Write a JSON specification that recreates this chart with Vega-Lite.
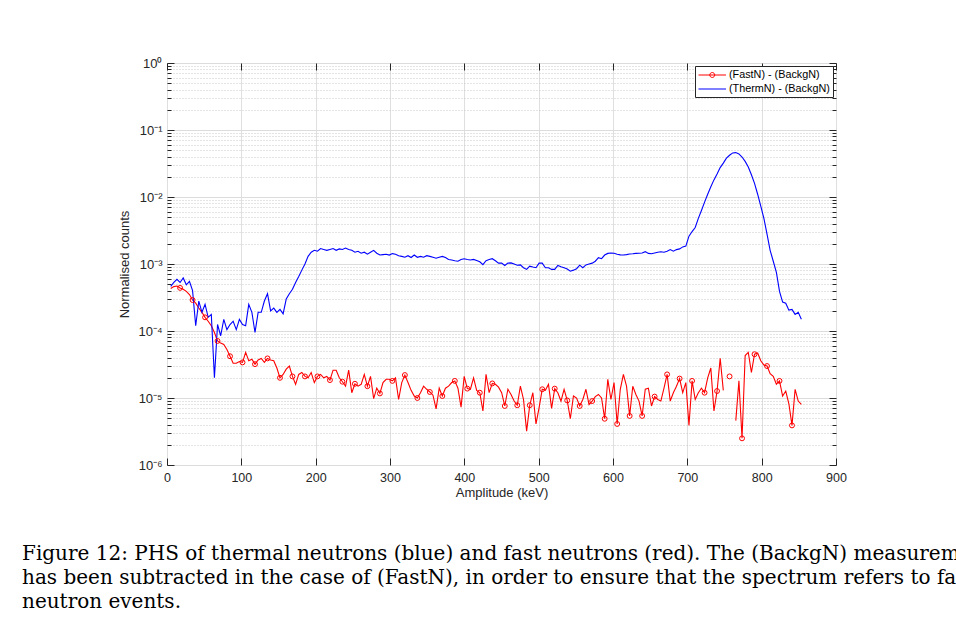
{
  "$schema": "https://vega.github.io/schema/vega-lite/v6.json",
  "width": 669,
  "height": 402,
  "autosize": {"type": "none"},
  "padding": {"left": 167, "top": 63, "right": 120, "bottom": 162},
  "background": "white",
  "config": {
    "view": {"stroke": "#262626", "strokeWidth": 1},
    "font": "Liberation Sans",
    "axis": {
      "labelFont": "Liberation Sans",
      "titleFont": "Liberation Sans",
      "labelColor": "#262626",
      "titleColor": "#262626",
      "labelFontSize": 12.5,
      "titleFontSize": 13,
      "titleFontWeight": "normal",
      "domain": false,
      "tickColor": "#262626",
      "tickWidth": 1
    }
  },
  "title": {
    "text": [
      "Figure 12:  PHS of thermal neutrons (blue) and fast neutrons (red). The (BackgN) measurement",
      "has been subtracted in the case of (FastN), in order to ensure that the spectrum refers to fast",
      "neutron events."
    ],
    "orient": "bottom",
    "anchor": "start",
    "frame": "group",
    "dx": -145,
    "offset": 44,
    "baseline": "top",
    "font": "DejaVu Serif",
    "fontSize": 20,
    "fontWeight": "normal",
    "color": "#000000",
    "lineHeight": 24
  },
  "data": {
    "values": [
      {"x":5,"f":4.3e-4,"t":4.65e-4,"m":0},
      {"x":9.2,"f":4.6e-4,"t":5.3e-4,"m":0},
      {"x":13.4,"f":4.7e-4,"t":5.9e-4,"m":0},
      {"x":17.6,"f":4.4e-4,"t":5.3e-4,"m":1},
      {"x":21.8,"f":4.2e-4,"t":6.2e-4,"m":0},
      {"x":26,"f":3.9e-4,"t":4.9e-4,"m":0},
      {"x":30.2,"f":3.5e-4,"t":5.5e-4,"m":0},
      {"x":34.4,"f":2.9e-4,"t":4.0e-4,"m":1},
      {"x":38.6,"f":2.6e-4,"t":1.2e-4,"m":0},
      {"x":42.8,"f":2.2e-4,"t":2.8e-4,"m":0},
      {"x":47,"f":1.9e-4,"t":1.9e-4,"m":0},
      {"x":51.2,"f":1.6e-4,"t":2.5e-4,"m":1},
      {"x":55.4,"f":1.4e-4,"t":1.6e-4,"m":0},
      {"x":59.6,"f":1.2e-4,"t":1.77e-4,"m":0},
      {"x":63.8,"f":9.5e-5,"t":2.0e-5,"m":0},
      {"x":68,"f":7.1e-5,"t":1.25e-4,"m":1},
      {"x":72.2,"f":6.6e-5,"t":8.5e-5,"m":0},
      {"x":76.4,"f":6.3e-5,"t":1.49e-4,"m":0},
      {"x":80.6,"f":5.3e-5,"t":1.05e-4,"m":0},
      {"x":84.8,"f":4.2e-5,"t":1.25e-4,"m":1},
      {"x":89,"f":3.3e-5,"t":1.4e-4,"m":0},
      {"x":93.2,"f":3.3e-5,"t":1.05e-4,"m":0},
      {"x":97.4,"f":3.5e-5,"t":1.49e-4,"m":0},
      {"x":101.6,"f":3.4e-5,"t":1.25e-4,"m":1},
      {"x":105.8,"f":4.8e-5,"t":1.2e-4,"m":0},
      {"x":110,"f":3.6e-5,"t":2.5e-4,"m":0},
      {"x":114.2,"f":3.8e-5,"t":1.9e-4,"m":0},
      {"x":118.4,"f":3.2e-5,"t":9.5e-5,"m":1},
      {"x":122.6,"f":3.7e-5,"t":1.9e-4,"m":0},
      {"x":126.8,"f":3.9e-5,"t":1.9e-4,"m":0},
      {"x":131,"f":3.4e-5,"t":2.8e-4,"m":0},
      {"x":135.2,"f":3.9e-5,"t":3.6e-4,"m":1},
      {"x":139.4,"f":3.7e-5,"t":2.0e-4,"m":0},
      {"x":143.6,"f":3.6e-5,"t":2.2e-4,"m":0},
      {"x":147.8,"f":2.8e-5,"t":1.9e-4,"m":0},
      {"x":152,"f":2.0e-5,"t":2.1e-4,"m":1},
      {"x":156.2,"f":2.25e-5,"t":1.8e-4,"m":0},
      {"x":160.4,"f":2.7e-5,"t":3.0e-4,"m":0},
      {"x":164.6,"f":3.0e-5,"t":3.6e-4,"m":0},
      {"x":168.8,"f":2.1e-5,"t":4.2e-4,"m":1},
      {"x":173,"f":1.6e-5,"t":5.3e-4,"m":0},
      {"x":177.2,"f":2.25e-5,"t":6.5e-4,"m":0},
      {"x":181.4,"f":2.4e-5,"t":8.1e-4,"m":0},
      {"x":185.6,"f":2.1e-5,"t":1.0e-3,"m":1},
      {"x":189.8,"f":2.0e-5,"t":1.3e-3,"m":0},
      {"x":194,"f":2.4e-5,"t":1.5e-3,"m":0},
      {"x":198.2,"f":1.7e-5,"t":1.6e-3,"m":0},
      {"x":202.4,"f":2.1e-5,"t":1.55e-3,"m":1},
      {"x":206.6,"f":2.25e-5,"t":1.7e-3,"m":0},
      {"x":210.8,"f":2.0e-5,"t":1.65e-3,"m":0},
      {"x":215,"f":2.1e-5,"t":1.6e-3,"m":0},
      {"x":219.2,"f":1.85e-5,"t":1.65e-3,"m":1},
      {"x":223.4,"f":2.6e-5,"t":1.7e-3,"m":0},
      {"x":227.6,"f":2.6e-5,"t":1.6e-3,"m":0},
      {"x":231.8,"f":2.0e-5,"t":1.68e-3,"m":0},
      {"x":236,"f":1.75e-5,"t":1.65e-3,"m":1},
      {"x":240.2,"f":1.5e-5,"t":1.73e-3,"m":0},
      {"x":244.4,"f":2.6e-5,"t":1.65e-3,"m":0},
      {"x":248.6,"f":1.2e-5,"t":1.6e-3,"m":0},
      {"x":252.8,"f":1.63e-5,"t":1.5e-3,"m":1},
      {"x":257,"f":1.5e-5,"t":1.55e-3,"m":0},
      {"x":261.2,"f":1.6e-5,"t":1.45e-3,"m":0},
      {"x":265.4,"f":2.25e-5,"t":1.5e-3,"m":0},
      {"x":269.6,"f":1.5e-5,"t":1.4e-3,"m":1},
      {"x":273.8,"f":2.1e-5,"t":1.5e-3,"m":0},
      {"x":278,"f":9.8e-6,"t":1.6e-3,"m":0},
      {"x":282.2,"f":1.4e-5,"t":1.45e-3,"m":0},
      {"x":286.4,"f":1.17e-5,"t":1.36e-3,"m":1},
      {"x":290.6,"f":1.7e-5,"t":1.38e-3,"m":0},
      {"x":294.8,"f":1.9e-5,"t":1.4e-3,"m":0},
      {"x":299,"f":1.9e-5,"t":1.36e-3,"m":0},
      {"x":303.2,"f":1.8e-5,"t":1.43e-3,"m":1},
      {"x":307.4,"f":2.0e-5,"t":1.4e-3,"m":0},
      {"x":311.6,"f":9.5e-6,"t":1.33e-3,"m":0},
      {"x":315.8,"f":1.7e-5,"t":1.3e-3,"m":0},
      {"x":320,"f":2.2e-5,"t":1.26e-3,"m":1},
      {"x":324.2,"f":1.7e-5,"t":1.33e-3,"m":0},
      {"x":328.4,"f":1.3e-5,"t":1.25e-3,"m":0},
      {"x":332.6,"f":1.07e-5,"t":1.36e-3,"m":0},
      {"x":336.8,"f":1.0e-5,"t":1.26e-3,"m":1},
      {"x":341,"f":1.2e-5,"t":1.3e-3,"m":0},
      {"x":345.2,"f":1.5e-5,"t":1.26e-3,"m":0},
      {"x":349.4,"f":1.35e-5,"t":1.33e-3,"m":0},
      {"x":353.6,"f":1.23e-5,"t":1.3e-3,"m":1},
      {"x":357.8,"f":1.1e-5,"t":1.26e-3,"m":0},
      {"x":362,"f":6.9e-6,"t":1.22e-3,"m":0},
      {"x":366.2,"f":1.4e-5,"t":1.26e-3,"m":0},
      {"x":370.4,"f":1.07e-5,"t":1.3e-3,"m":1},
      {"x":374.6,"f":1.4e-5,"t":1.25e-3,"m":0},
      {"x":378.8,"f":1.5e-5,"t":1.17e-3,"m":0},
      {"x":383,"f":1.7e-5,"t":1.15e-3,"m":0},
      {"x":387.2,"f":1.8e-5,"t":1.12e-3,"m":1},
      {"x":391.4,"f":1.4e-5,"t":1.1e-3,"m":0},
      {"x":395.6,"f":7.3e-6,"t":1.17e-3,"m":0},
      {"x":399.8,"f":2.1e-5,"t":1.2e-3,"m":0},
      {"x":404,"f":1.38e-5,"t":1.17e-3,"m":1},
      {"x":408.2,"f":1.35e-5,"t":1.15e-3,"m":0},
      {"x":412.4,"f":2.0e-5,"t":1.17e-3,"m":0},
      {"x":416.6,"f":1.3e-5,"t":1.13e-3,"m":0},
      {"x":420.8,"f":1.2e-5,"t":1.08e-3,"m":1},
      {"x":425,"f":6.4e-6,"t":9.8e-4,"m":0},
      {"x":429.2,"f":2.25e-5,"t":1.12e-3,"m":0},
      {"x":433.4,"f":1.2e-5,"t":1.17e-3,"m":0},
      {"x":437.6,"f":1.65e-5,"t":1.2e-3,"m":1},
      {"x":441.8,"f":1.6e-5,"t":1.12e-3,"m":0},
      {"x":446,"f":1.45e-5,"t":1.03e-3,"m":0},
      {"x":450.2,"f":1.2e-5,"t":1.03e-3,"m":0},
      {"x":454.4,"f":7.6e-6,"t":9.5e-4,"m":1},
      {"x":458.6,"f":1.35e-5,"t":1.03e-3,"m":0},
      {"x":462.8,"f":1.13e-5,"t":1.04e-3,"m":0},
      {"x":467,"f":9e-6,"t":1.0e-3,"m":0},
      {"x":471.2,"f":7.8e-6,"t":9.6e-4,"m":1},
      {"x":475.4,"f":1.5e-5,"t":9.7e-4,"m":0},
      {"x":479.6,"f":9.5e-6,"t":8.8e-4,"m":0},
      {"x":483.8,"f":3.2e-6,"t":8.3e-4,"m":0},
      {"x":488,"f":7.8e-6,"t":9.3e-4,"m":1},
      {"x":492.2,"f":1.2e-5,"t":9e-4,"m":0},
      {"x":496.4,"f":4.1e-6,"t":8.8e-4,"m":0},
      {"x":500.6,"f":7.2e-6,"t":1.03e-3,"m":0},
      {"x":504.8,"f":1.35e-5,"t":1.03e-3,"m":1},
      {"x":509,"f":1.3e-5,"t":8.8e-4,"m":0},
      {"x":513.2,"f":1.6e-5,"t":8.8e-4,"m":0},
      {"x":517.4,"f":7e-6,"t":8.3e-4,"m":0},
      {"x":521.6,"f":1.38e-5,"t":8.3e-4,"m":1},
      {"x":525.8,"f":1.2e-5,"t":9.5e-4,"m":0},
      {"x":530,"f":9e-6,"t":9.1e-4,"m":0},
      {"x":534.2,"f":1.35e-5,"t":8.8e-4,"m":0},
      {"x":538.4,"f":9.2e-6,"t":8.4e-4,"m":1},
      {"x":542.6,"f":4.9e-6,"t":7.8e-4,"m":0},
      {"x":546.8,"f":1.07e-5,"t":8.1e-4,"m":0},
      {"x":551,"f":1.0e-5,"t":8.5e-4,"m":0},
      {"x":555.2,"f":7.6e-6,"t":9.6e-4,"m":1},
      {"x":559.4,"f":9.5e-6,"t":8.8e-4,"m":0},
      {"x":563.6,"f":1.35e-5,"t":9.7e-4,"m":0},
      {"x":567.8,"f":8e-6,"t":1.0e-3,"m":0},
      {"x":572,"f":9e-6,"t":1.03e-3,"m":1},
      {"x":576.2,"f":1.05e-5,"t":1.1e-3,"m":0},
      {"x":580.4,"f":1.13e-5,"t":1.24e-3,"m":0},
      {"x":584.6,"f":1.0e-5,"t":1.2e-3,"m":0},
      {"x":588.8,"f":4.9e-6,"t":1.36e-3,"m":1},
      {"x":593,"f":1.9e-5,"t":1.44e-3,"m":0},
      {"x":597.2,"f":9.5e-6,"t":1.46e-3,"m":0},
      {"x":601.4,"f":1.7e-5,"t":1.45e-3,"m":0},
      {"x":605.6,"f":4.1e-6,"t":1.4e-3,"m":1},
      {"x":609.8,"f":1.35e-5,"t":1.37e-3,"m":0},
      {"x":614,"f":2.25e-5,"t":1.36e-3,"m":0},
      {"x":618.2,"f":1.5e-5,"t":1.38e-3,"m":0},
      {"x":622.4,"f":5.4e-6,"t":1.41e-3,"m":1},
      {"x":626.6,"f":1.5e-5,"t":1.42e-3,"m":0},
      {"x":630.8,"f":1.13e-5,"t":1.44e-3,"m":0},
      {"x":635,"f":9e-6,"t":1.45e-3,"m":0},
      {"x":639.2,"f":5.4e-6,"t":1.46e-3,"m":1},
      {"x":643.4,"f":1.35e-5,"t":1.53e-3,"m":0},
      {"x":647.6,"f":1.4e-5,"t":1.44e-3,"m":0},
      {"x":651.8,"f":7.6e-6,"t":1.42e-3,"m":0},
      {"x":656,"f":1.05e-5,"t":1.46e-3,"m":1},
      {"x":660.2,"f":9.5e-6,"t":1.5e-3,"m":0},
      {"x":664.4,"f":9e-6,"t":1.52e-3,"m":0},
      {"x":668.6,"f":1.4e-5,"t":1.5e-3,"m":0},
      {"x":672.8,"f":2.25e-5,"t":1.55e-3,"m":1},
      {"x":677,"f":9e-6,"t":1.64e-3,"m":0},
      {"x":681.2,"f":1.2e-5,"t":1.55e-3,"m":0},
      {"x":685.4,"f":1.5e-5,"t":1.64e-3,"m":0},
      {"x":689.6,"f":1.95e-5,"t":1.68e-3,"m":1},
      {"x":693.8,"f":1.2e-5,"t":1.8e-3,"m":0},
      {"x":698,"f":1.7e-5,"t":1.85e-3,"m":0},
      {"x":702.2,"f":3.9e-6,"t":2.6e-3,"m":0},
      {"x":706.4,"f":1.8e-5,"t":3.05e-3,"m":1},
      {"x":710.6,"f":9.5e-6,"t":3.5e-3,"m":0},
      {"x":714.8,"f":1.2e-5,"t":4.8e-3,"m":0},
      {"x":719,"f":1.4e-5,"t":6.3e-3,"m":0},
      {"x":723.2,"f":1.2e-5,"t":8.4e-3,"m":1},
      {"x":727.4,"f":2.0e-5,"t":1.1e-2,"m":0},
      {"x":731.6,"f":2.8e-5,"t":1.42e-2,"m":0},
      {"x":735.8,"f":6.4e-6,"t":1.8e-2,"m":0},
      {"x":740,"f":1.27e-5,"t":2.2e-2,"m":1},
      {"x":744.2,"f":3.9e-5,"t":2.75e-2,"m":0},
      {"x":748.4,"f":1.3e-5,"t":3.2e-2,"m":0},
      {"x":752.6,"f":null,"t":3.8e-2,"m":0},
      {"x":756.8,"f":2.1e-5,"t":4.2e-2,"m":1},
      {"x":761,"f":null,"t":4.55e-2,"m":0},
      {"x":765.2,"f":4.6e-6,"t":4.6e-2,"m":0},
      {"x":769.4,"f":1.8e-5,"t":4.4e-2,"m":0},
      {"x":773.6,"f":2.5e-6,"t":3.95e-2,"m":1},
      {"x":777.8,"f":4.3e-5,"t":3.4e-2,"m":0},
      {"x":782,"f":4.8e-5,"t":2.8e-2,"m":0},
      {"x":786.2,"f":2.4e-5,"t":2.15e-2,"m":0},
      {"x":790.4,"f":4.5e-5,"t":1.6e-2,"m":1},
      {"x":794.6,"f":4.7e-5,"t":1.1e-2,"m":0},
      {"x":798.8,"f":3.6e-5,"t":7.3e-3,"m":0},
      {"x":803,"f":3.1e-5,"t":4.8e-3,"m":0},
      {"x":807.2,"f":3.0e-5,"t":2.8e-3,"m":1},
      {"x":811.4,"f":2.3e-5,"t":1.6e-3,"m":0},
      {"x":815.6,"f":2.1e-5,"t":1.1e-3,"m":0},
      {"x":819.8,"f":1.6e-5,"t":7.5e-4,"m":0},
      {"x":824,"f":1.8e-5,"t":3.9e-4,"m":1},
      {"x":828.2,"f":1.07e-5,"t":2.7e-4,"m":0},
      {"x":832.4,"f":1.27e-5,"t":2.6e-4,"m":0},
      {"x":836.6,"f":8.2e-6,"t":2.05e-4,"m":0},
      {"x":840.8,"f":3.9e-6,"t":2.1e-4,"m":1},
      {"x":845,"f":1.35e-5,"t":1.77e-4,"m":0},
      {"x":849.2,"f":9e-6,"t":1.9e-4,"m":0},
      {"x":853.4,"f":8e-6,"t":1.5e-4,"m":0}
    ]
  },
  "layer": [
    {
      "transform": [{"fold": ["f", "t"], "as": ["series", "value"]}],
      "mark": {"type": "line", "strokeWidth": 1.1, "clip": true},
      "encoding": {
        "x": {
          "field": "x",
          "type": "quantitative",
          "scale": {"domain": [0, 900], "nice": false, "zero": false},
          "axis": {
            "orient": "bottom",
            "values": [0, 100, 200, 300, 400, 500, 600, 700, 800, 900],
            "format": "d",
            "title": "Amplitude (keV)",
            "grid": true,
            "gridColor": "#dfdfdf",
            "gridWidth": 1,
            "tickSize": -7,
            "labelPadding": 13,
            "titlePadding": 3,
            "labelFlush": false,
            "labelOverlap": false
          }
        },
        "y": {
          "field": "value",
          "type": "quantitative",
          "scale": {"type": "log", "domain": [1e-6, 1], "nice": false},
          "axis": {
            "orient": "left",
            "values": [1e-6,2e-6,3e-6,4e-6,5e-6,6e-6,7e-6,8e-6,9e-6,1e-5,2e-5,3e-5,4e-5,5e-5,6e-5,7e-5,8e-5,9e-5,1e-4,2e-4,3e-4,4e-4,5e-4,6e-4,7e-4,8e-4,9e-4,1e-3,2e-3,3e-3,4e-3,5e-3,6e-3,7e-3,8e-3,9e-3,1e-2,2e-2,3e-2,4e-2,5e-2,6e-2,7e-2,8e-2,9e-2,0.1,0.2,0.3,0.4,0.5,0.6,0.7,0.8,0.9,1],
            "title": "Normalised counts",
            "labelExpr": "abs(log(datum.value)/LN10 - round(log(datum.value)/LN10)) < 0.001 ? ['10⁻⁶','10⁻⁵','10⁻⁴','10⁻³','10⁻²','10⁻¹','10⁰'][round(log(datum.value)/LN10)+6] : ''",
            "labelFontSize": 13,
            "grid": true,
            "gridWidth": 1,
            "gridColor": {"condition": {"test": "abs(log(datum.value)/LN10 - round(log(datum.value)/LN10)) < 0.001", "value": "#dcdcdc"}, "value": "#c8c8c8"},
            "gridDash": {"condition": {"test": "abs(log(datum.value)/LN10 - round(log(datum.value)/LN10)) < 0.001", "value": []}, "value": [1, 2]},
            "tickSize": {"condition": {"test": "abs(log(datum.value)/LN10 - round(log(datum.value)/LN10)) < 0.001", "value": -7}, "value": -4},
            "labelPadding": 12,
            "titlePadding": 6,
            "labelFlush": false,
            "labelOverlap": false,
            "labelBound": false
          }
        },
        "color": {
          "field": "series",
          "type": "nominal",
          "scale": {"domain": ["f", "t"], "range": ["#ff0000", "#0000ff"]},
          "legend": {
            "title": null,
            "orient": "top-right",
            "offset": 3,
            "padding": 3,
            "strokeColor": "#262626",
            "fillColor": "white",
            "symbolType": "stroke",
            "symbolSize": 121,
            "symbolStrokeWidth": 1,
            "labelFont": "Liberation Sans",
            "labelFontSize": 10.8,
            "labelColor": "#000000",
            "labelOffset": 19,
            "rowPadding": 3,
            "labelExpr": "datum.label == 'f' ? '(FastN) - (BackgN)' : '(ThermN) - (BackgN)'",
            "encode": {
              "symbols": {
                "update": {
                  "shape": {"signal": "datum.value == 'f' ? 'M-1,0L4,0M1.05,0A0.45,0.45,0,1,1,1.95,0A0.45,0.45,0,1,1,1.05,0' : 'M-1,0L4,0'"},
                  "fill": {"value": "transparent"}
                }
              }
            }
          }
        }
      }
    },
    {
      "transform": [{"filter": "datum.m == 1 && isValid(datum.f)"}],
      "mark": {"type": "point", "shape": "circle", "filled": false, "color": "#ff0000", "size": 24, "strokeWidth": 1, "opacity": 1},
      "encoding": {
        "x": {
          "field": "x",
          "type": "quantitative",
          "scale": {"domain": [0, 900], "nice": false, "zero": false},
          "axis": {
            "orient": "top",
            "values": [0, 100, 200, 300, 400, 500, 600, 700, 800, 900],
            "labels": false,
            "grid": false,
            "title": null,
            "tickSize": -7
          }
        },
        "y": {
          "field": "f",
          "type": "quantitative",
          "scale": {"type": "log", "domain": [1e-6, 1], "nice": false},
          "axis": {
            "orient": "right",
            "values": [1e-6,2e-6,3e-6,4e-6,5e-6,6e-6,7e-6,8e-6,9e-6,1e-5,2e-5,3e-5,4e-5,5e-5,6e-5,7e-5,8e-5,9e-5,1e-4,2e-4,3e-4,4e-4,5e-4,6e-4,7e-4,8e-4,9e-4,1e-3,2e-3,3e-3,4e-3,5e-3,6e-3,7e-3,8e-3,9e-3,1e-2,2e-2,3e-2,4e-2,5e-2,6e-2,7e-2,8e-2,9e-2,0.1,0.2,0.3,0.4,0.5,0.6,0.7,0.8,0.9,1],
            "labels": false,
            "grid": false,
            "title": null,
            "tickSize": {"condition": {"test": "abs(log(datum.value)/LN10 - round(log(datum.value)/LN10)) < 0.001", "value": -7}, "value": -4}
          }
        }
      }
    }
  ]
}
